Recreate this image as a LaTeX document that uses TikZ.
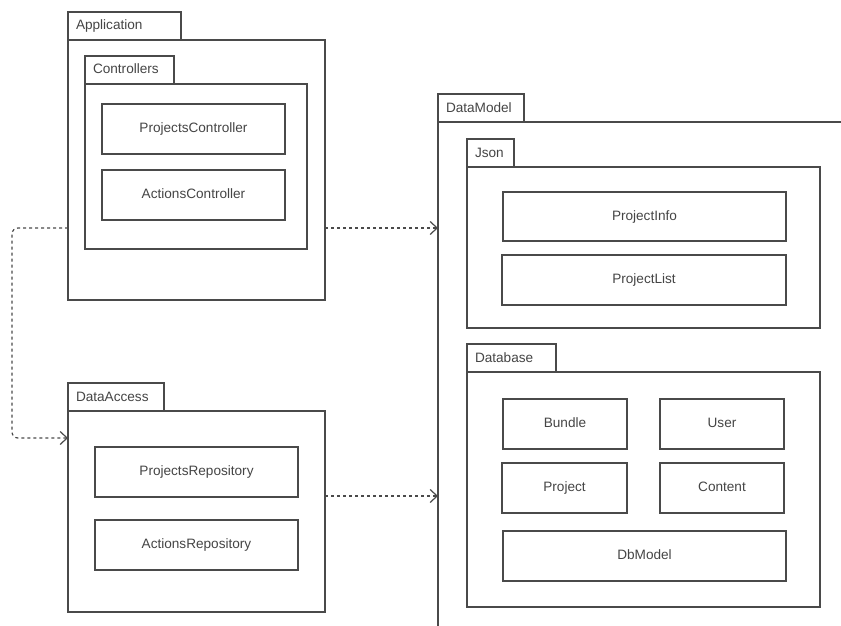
\documentclass[tikz,border=0pt]{standalone}
\usepackage{fontspec}
\setmainfont{Liberation Sans}
\usetikzlibrary{arrows.meta}
\definecolor{ln}{HTML}{4A4A4A}
\definecolor{tx}{HTML}{454545}
\begin{document}
\begin{tikzpicture}[x=1pt,y=-1pt,
  every node/.style={font=\fontsize{13.6}{15}\selectfont, text=tx},
  pkg/.style={draw=ln, line width=1.3pt, fill=white, rectangle, inner sep=0pt, outer sep=0pt, anchor=north west},
  tabbox/.style={draw=ln, line width=1.3pt, fill=white, rectangle, inner xsep=8pt, inner ysep=0pt, outer sep=0pt, align=left, anchor=south west, minimum height=28pt, text height=9.5pt, text depth=1.5pt},
  cls/.style={draw=ln, line width=1.3pt, fill=white, rectangle, inner sep=0pt, outer sep=0pt, anchor=north west, align=center, text height=9.5pt, text depth=2.5pt},
  dep/.style={draw=ln, line width=1.2pt, dash pattern=on 3pt off 3pt, -{Straight Barb[length=7pt, width=13pt, line width=1.2pt]}, rounded corners=6pt}
]
\useasboundingbox (0,0) rectangle (841,626);
\clip (0,0) rectangle (841,626);

% Application
\node[pkg, minimum width=257pt, minimum height=260pt] (app) at (68,40) {};
\node[tabbox, text width=97pt] (appt) at (68,40) {Application};
\node[pkg, minimum width=222pt, minimum height=165pt] (ctl) at (85,84) {};
\node[tabbox, text width=73pt] (ctlt) at (85,84) {Controllers};
\node[cls, minimum width=183pt, minimum height=50pt] (pc) at (102,104) {ProjectsController};
\node[cls, minimum width=183pt, minimum height=50pt] (ac) at (102,170) {ActionsController};

% DataAccess
\node[pkg, minimum width=257pt, minimum height=201pt] (da) at (68,411) {};
\node[tabbox, text width=80pt] (dat) at (68,411) {DataAccess};
\node[cls, minimum width=203pt, minimum height=50pt] (pr) at (95,447) {ProjectsRepository};
\node[cls, minimum width=203pt, minimum height=50pt] (ar) at (95,520) {ActionsRepository};

% DataModel
\node[pkg, minimum width=440pt, minimum height=540pt] (dm) at (438,122) {};
\node[tabbox, text width=70pt] (dmt) at (438,122) {DataModel};
\node[pkg, minimum width=353pt, minimum height=161pt] (js) at (467,167) {};
\node[tabbox, text width=31pt] (jst) at (467,167) {Json};
\node[cls, minimum width=283pt, minimum height=49pt] (pi) at (503,192) {ProjectInfo};
\node[cls, minimum width=284pt, minimum height=50pt] (pl) at (502,255) {ProjectList};
\node[pkg, minimum width=353pt, minimum height=235pt] (db) at (467,372) {};
\node[tabbox, text width=73pt] (dbt) at (467,372) {Database};
\node[cls, minimum width=124pt, minimum height=50pt] (bu) at (503,399) {Bundle};
\node[cls, minimum width=124pt, minimum height=50pt] (us) at (660,399) {User};
\node[cls, minimum width=125pt, minimum height=50pt] (pj) at (502,463) {Project};
\node[cls, minimum width=124pt, minimum height=50pt] (co) at (660,463) {Content};
\node[cls, minimum width=283pt, minimum height=50pt] (dbm) at (503,531) {DbModel};

% dependencies
\draw[dep] (app.west |- 0,228) -- (12,228) -- (12,438) -- (da.west |- 0,438);
\draw[dep] (app.east |- 0,228) -- (dm.west |- 0,228);
\draw[dep] (da.east |- 0,496) -- (dm.west |- 0,496);
\end{tikzpicture}
\end{document}
